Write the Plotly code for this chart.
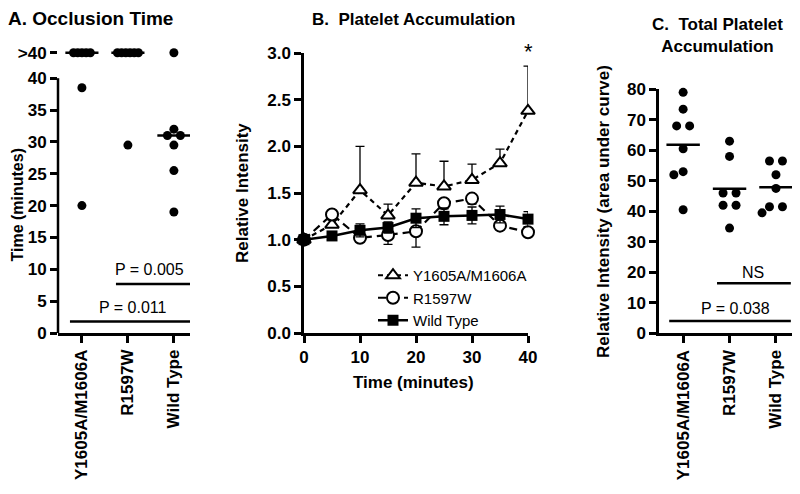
import plotly.graph_objects as go
from collections import defaultdict

# ---------------- data ----------------
GROUPS = ["Y1605A/M1606A", "R1597W", "Wild Type"]

# Panel A: occlusion time (minutes); ">40" = no occlusion within 40 min
OCC_Y1605A = [">40", ">40", ">40", ">40", ">40", 38.5, 20.0]
OCC_R1597W = [">40", ">40", ">40", ">40", ">40", ">40", 29.5]
OCC_WT = [">40", 32.0, 31.0, 31.0, 29.5, 25.5, 19.0]
OCC_TICKS = [0, 5, 10, 15, 20, 25, 30, 35, 40]
OVER_LABEL = ">40"
OVER_POS = 44.0  # where the ">40" row sits on the broken axis

# Panel B: relative intensity over time (mean, SEM)
TIME = [0, 5, 10, 15, 20, 25, 30, 35, 40]
B_Y1605A = [1.00, 1.16, 1.53, 1.26, 1.61, 1.57, 1.64, 1.82, 2.38]
B_Y1605A_SEM = [0.00, 0.05, 0.47, 0.12, 0.31, 0.27, 0.17, 0.15, 0.48]
B_R1597W = [1.00, 1.27, 1.02, 1.05, 1.09, 1.39, 1.44, 1.15, 1.08]
B_R1597W_SEM = [0.00, 0.04, 0.04, 0.10, 0.17, 0.06, 0.06, 0.04, 0.03]
B_WT = [1.00, 1.04, 1.10, 1.13, 1.23, 1.25, 1.26, 1.27, 1.22]
B_WT_SEM = [0.00, 0.03, 0.07, 0.06, 0.10, 0.09, 0.09, 0.09, 0.08]

# Panel C: area under curve
AUC_Y1605A = [79.0, 73.5, 68.0, 68.0, 60.5, 53.0, 52.0, 40.5]
AUC_R1597W = [63.0, 58.0, 46.0, 46.0, 42.0, 42.0, 34.5]
AUC_WT = [56.5, 56.5, 52.0, 47.5, 41.5, 41.5, 39.5]

# ---------------- helpers ----------------
W, H = 800, 494
PAGE_OFF = 8  # the page body margin shifts the figure by this many pixels
FONT = "Liberation Sans"


def fx(px):
    return (px - PAGE_OFF) / W


def fy(py):
    return 1 - (py - PAGE_OFF) / H


def swarm(vals, sx, sy, diam, tie_gap):
    """Horizontal offsets (category units) so dots do not overlap."""
    n = len(vals)
    off = [None] * n
    placed = []
    groups = defaultdict(list)
    for i, v in enumerate(vals):
        groups[v].append(i)
    for v, ids in groups.items():
        if len(ids) > 1:
            k = len(ids)
            for j, i in enumerate(ids):
                off[i] = (j - (k - 1) / 2) * tie_gap / sx
                placed.append((off[i], v))
    cands = [0.0]
    for k in range(1, 60):
        cands += [-k * 0.02, k * 0.02]
    for i in sorted(range(n), key=lambda i: -vals[i]):
        if off[i] is not None:
            continue
        for c in cands:
            if all(((c - o) * sx) ** 2 + ((vals[i] - v) * sy) ** 2 >= diam ** 2 for o, v in placed):
                break
        off[i] = c
        placed.append((c, vals[i]))
    return off


def median(vals):
    s = sorted(vals)
    n = len(s)
    return s[n // 2] if n % 2 else (s[n // 2 - 1] + s[n // 2]) / 2


fig = go.Figure()

# ---------------- Panel A ----------------
A_SX, A_SY = 46.0, 6.37  # px per unit
for gi, vals in enumerate([OCC_Y1605A, OCC_R1597W, OCC_WT]):
    pos = [OVER_POS if v == OVER_LABEL else v for v in vals]
    n_over = sum(1 for v in vals if v == OVER_LABEL)
    others = [v for v in pos if v != OVER_POS]
    off_o = swarm(others, A_SX, A_SY, 8.5, 13.0)
    xs = [gi + (j - (n_over - 1) / 2) * 4.2 / A_SX for j in range(n_over)] + [gi + o for o in off_o]
    ys = [OVER_POS] * n_over + others
    fig.add_trace(go.Scatter(x=xs, y=ys, mode="markers", xaxis="x", yaxis="y",
                             marker=dict(color="black", size=9), showlegend=False,
                             cliponaxis=False, hoverinfo="skip"))
    med = median(pos)
    fig.add_trace(go.Scatter(x=[gi - 0.36, gi + 0.36], y=[med, med], mode="lines",
                             xaxis="x", yaxis="y", line=dict(color="black", width=2.5),
                             showlegend=False, cliponaxis=False, hoverinfo="skip"))

# ---------------- Panel B ----------------
zeros = [0] * len(TIME)
fig.add_trace(go.Scatter(
    x=TIME, y=B_Y1605A, name="Y1605A/M1606A", mode="lines+markers", xaxis="x2", yaxis="y2",
    line=dict(color="black", width=2.2, dash="5px,4px"),
    marker=dict(symbol="triangle-up", size=12, color="white", line=dict(color="black", width=2)),
    error_y=dict(type="data", symmetric=False, array=B_Y1605A_SEM, arrayminus=zeros,
                 color="black", thickness=1.3, width=4.5),
    cliponaxis=False))
fig.add_trace(go.Scatter(
    x=TIME, y=B_R1597W, name="R1597W", mode="lines+markers", xaxis="x2", yaxis="y2",
    line=dict(color="black", width=2.2, dash="8px,5px"),
    marker=dict(symbol="circle", size=12, color="white", line=dict(color="black", width=2)),
    error_y=dict(type="data", symmetric=False, array=zeros, arrayminus=B_R1597W_SEM,
                 color="black", thickness=1.3, width=4.5),
    cliponaxis=False))
fig.add_trace(go.Scatter(
    x=TIME, y=B_WT, name="Wild Type", mode="lines+markers", xaxis="x2", yaxis="y2",
    line=dict(color="black", width=2.5),
    marker=dict(symbol="square", size=11, color="black"),
    error_y=dict(type="data", array=B_WT_SEM, color="black", thickness=1.3, width=4.5),
    cliponaxis=False))

# ---------------- Panel C ----------------
C_SX, C_SY = 46.5, 3.05
for gi, vals in enumerate([AUC_Y1605A, AUC_R1597W, AUC_WT]):
    off = swarm(vals, C_SX, C_SY, 9.0, 13.0)
    fig.add_trace(go.Scatter(x=[gi + o for o in off], y=vals, mode="markers", xaxis="x3", yaxis="y3",
                             marker=dict(color="black", size=9), showlegend=False,
                             cliponaxis=False, hoverinfo="skip"))
    m = sum(vals) / len(vals)
    fig.add_trace(go.Scatter(x=[gi - 0.36, gi + 0.36], y=[m, m], mode="lines",
                             xaxis="x3", yaxis="y3", line=dict(color="black", width=2.5),
                             showlegend=False, cliponaxis=False, hoverinfo="skip"))

# ---------------- axes ----------------
tickfont = dict(family=FONT, size=17, color="black", weight="bold")
catfont = dict(family=FONT, size=17, color="black", weight="bold")
common = dict(showgrid=False, zeroline=False, ticks="outside", ticklen=7, tickwidth=2.5,
              tickcolor="black", linecolor="black", linewidth=2.5, automargin=False)

fig.update_layout(
    width=W, height=H, plot_bgcolor="white", paper_bgcolor="white",
    margin=dict(l=0, r=0, t=0, b=0, autoexpand=False),
    xaxis=dict(domain=[fx(58), fx(190)], range=[-0.52, 2.35], anchor="y", showline=True,
               tickvals=[0, 1, 2], ticktext=GROUPS, tickangle=-90, tickfont=catfont, **common),
    yaxis=dict(domain=[fy(333), fy(45)], range=[0, (333 - 45) / A_SY], anchor="x", showline=False,
               tickvals=OCC_TICKS + [OVER_POS], ticktext=[str(t) for t in OCC_TICKS] + [OVER_LABEL],
               tickfont=tickfont, **common),
    xaxis2=dict(domain=[fx(304), fx(528)], range=[0, 40], anchor="y2", showline=True,
                tickvals=[0, 10, 20, 30, 40], tickfont=tickfont, **common),
    yaxis2=dict(domain=[fy(333), fy(53)], range=[0, 3], anchor="x2", showline=True,
                tickvals=[0, 0.5, 1, 1.5, 2, 2.5, 3], tickformat=".1f", tickfont=tickfont, **common),
    xaxis3=dict(domain=[fx(659), 1.0], range=[-0.52, 2.69], anchor="y3", showline=True,
                tickvals=[0, 1, 2], ticktext=GROUPS, tickangle=-90, tickfont=catfont, **common),
    yaxis3=dict(domain=[fy(333.3), fy(89.3)], range=[0, 80], anchor="x3", showline=True,
                tickvals=list(range(0, 81, 10)), tickfont=tickfont, **common),
    legend=dict(x=fx(373), y=fy(259), xanchor="left", yanchor="top", bgcolor="rgba(0,0,0,0)",
                font=dict(family=FONT, size=15, color="black"), tracegroupgap=0, itemwidth=30),
    showlegend=True,
)

# broken y-axis line of panel A (0 to 40 only)
fig.add_shape(type="line", xref="x domain", yref="y", x0=0, x1=0, y0=0, y1=40,
              line=dict(color="black", width=2.5))

# significance bars
def sig(xref, yref, x0, x1, yl, text, xt, yt):
    fig.add_shape(type="line", xref=xref, yref=yref, x0=x0, x1=x1, y0=yl, y1=yl,
                  line=dict(color="black", width=2.5))
    fig.add_annotation(xref=xref, yref=yref, x=xt, y=yt, text=text, showarrow=False,
                       xanchor="center", yanchor="middle",
                       font=dict(family=FONT, size=16, color="black"))

sig("x", "y", 0.74, 2.35, 7.7, "P = 0.005", 1.48, 10.0)
sig("x", "y", -0.26, 2.35, 1.8, "P = 0.011", 1.1, 4.0)
sig("x3", "y3", 0.73, 2.32, 16.4, "NS", 1.5, 20.0)
sig("x3", "y3", -0.30, 2.32, 4.0, "P = 0.038", 1.12, 8.2)

# titles and axis titles
def ann(x, y, text, size, bold=True, angle=0, xanchor="center", yanchor="middle"):
    fig.add_annotation(xref="paper", yref="paper", x=fx(x), y=fy(y), text=text, showarrow=False,
                       textangle=angle, xanchor=xanchor, yanchor=yanchor,
                       font=dict(family=FONT, size=size, color="black", weight="bold" if bold else "normal"))

ann(6, 6, "A. Occlusion Time", 19, xanchor="left", yanchor="top")
ann(413, 19, "B.  Platelet Accumulation", 17)
ann(717, 36, "C.  Total Platelet<br>Accumulation", 17)
ann(6, 205, "Time (minutes)", 16, angle=-90, xanchor="left")
ann(242, 193, "Relative Intensity", 17, angle=-90)
ann(414, 382, "Time (minutes)", 17)
ann(603, 212, "Relative Intensity (area under curve)", 17, angle=-90)
fig.add_annotation(xref="x2", yref="paper", x=40, y=fy(52), text="*", showarrow=False,
                   xanchor="center", yanchor="middle",
                   font=dict(family=FONT, size=22, color="black"))

fig.write_html("out.html")
